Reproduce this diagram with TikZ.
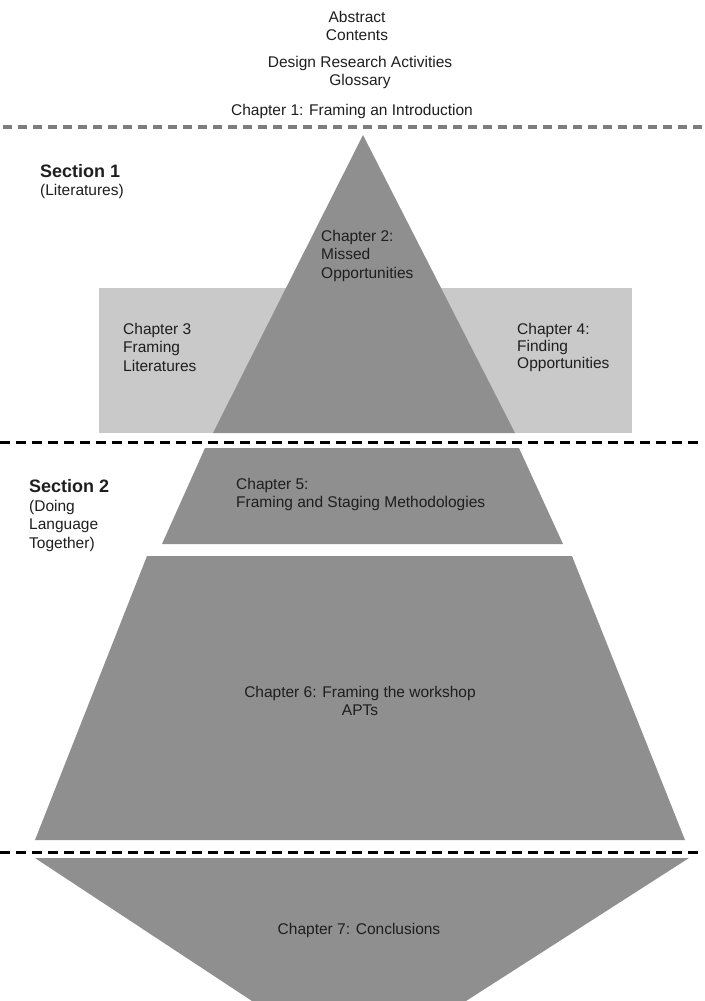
\documentclass[tikz,border=0pt]{standalone}
\usepackage{fontspec}
\setmainfont{Liberation Sans}
\newcommand\diagfont{\fontsize{15.5}{18.5}\selectfont}
\newcommand\secfont{\fontsize{18}{20}\selectfont\bfseries}
\definecolor{pyrgray}{HTML}{8F8F8F}
\definecolor{boxgray}{HTML}{C9C9C9}
\definecolor{topdash}{HTML}{7D7D7D}
\definecolor{inkgray}{HTML}{1E1E1E}
\tikzset{
  chapshape/.style={fill=pyrgray},
  litbox/.style={fill=boxgray},
  sectline/.style={line width=3pt,dash pattern=on 10pt off 6pt},
  lbl/.style={inner sep=0pt,text=inkgray,font=\diagfont},
}
\begin{document}
\begin{tikzpicture}[x=1pt,y=-1pt]
    \useasboundingbox (0,0) rectangle (704,1001);
    % front matter
    \node[lbl,anchor=north,align=center] (front) at (357,11) {Abstract\\Contents};
    \node[lbl,anchor=north,align=center] (extra) at (360,56) {Design Research Activities\\Glossary};
    \node[lbl,anchor=north] (ch1) at (352,104) {Chapter 1: Framing an Introduction};
    \draw[sectline,topdash,line width=4pt,dash pattern=on 9pt off 6pt] (3,127) -- (704,127);
    % section 1
    \fill[litbox] (99,288) rectangle (632,433);
    \fill[chapshape] (363,135) -- (515,433) -- (213,433) -- cycle;
    \node[lbl,anchor=north west,font=\secfont] (sec1) at (40,164.5) {Section 1};
    \node[lbl,anchor=north west] (sec1sub) at (40,184) {(Literatures)};
    \node[lbl,anchor=north west,align=left] (ch2) at (321,230) {Chapter 2:\\Missed\\Opportunities};
    \node[lbl,anchor=north west,align=left] (ch3) at (123,323) {Chapter 3\\Framing\\Literatures};
    \node[lbl,anchor=north west,align=left,font=\fontsize{15.5}{17}\selectfont] (ch4) at (517,323) {Chapter 4:\\Finding\\Opportunities};
    \draw[sectline] (0,442) -- (704,442);
    % section 2
    \fill[chapshape] (205,448) -- (519,448) -- (563,544) -- (162,544) -- cycle;
    \fill[chapshape] (147,556) -- (572,556) -- (685,840) -- (35,840) -- cycle;
    \node[lbl,anchor=north west,font=\secfont] (sec2) at (29,479) {Section 2};
    \node[lbl,anchor=north west,align=left] (sec2sub) at (29,500) {(Doing\\Language\\Together)};
    \node[lbl,anchor=north west,align=left] (ch5) at (236,478) {Chapter 5:\\Framing and Staging Methodologies};
    \node[lbl,anchor=north,align=center] (ch6) at (360,686) {Chapter 6: Framing the workshop\\APTs};
    \draw[sectline] (0,852) -- (704,852);
    % conclusions
    \fill[chapshape] (35,858) -- (689,858) -- (466,1001) -- (252,1001) -- cycle;
    \node[lbl,anchor=north] (ch7) at (359,923) {Chapter 7: Conclusions};
\end{tikzpicture}
\end{document}
